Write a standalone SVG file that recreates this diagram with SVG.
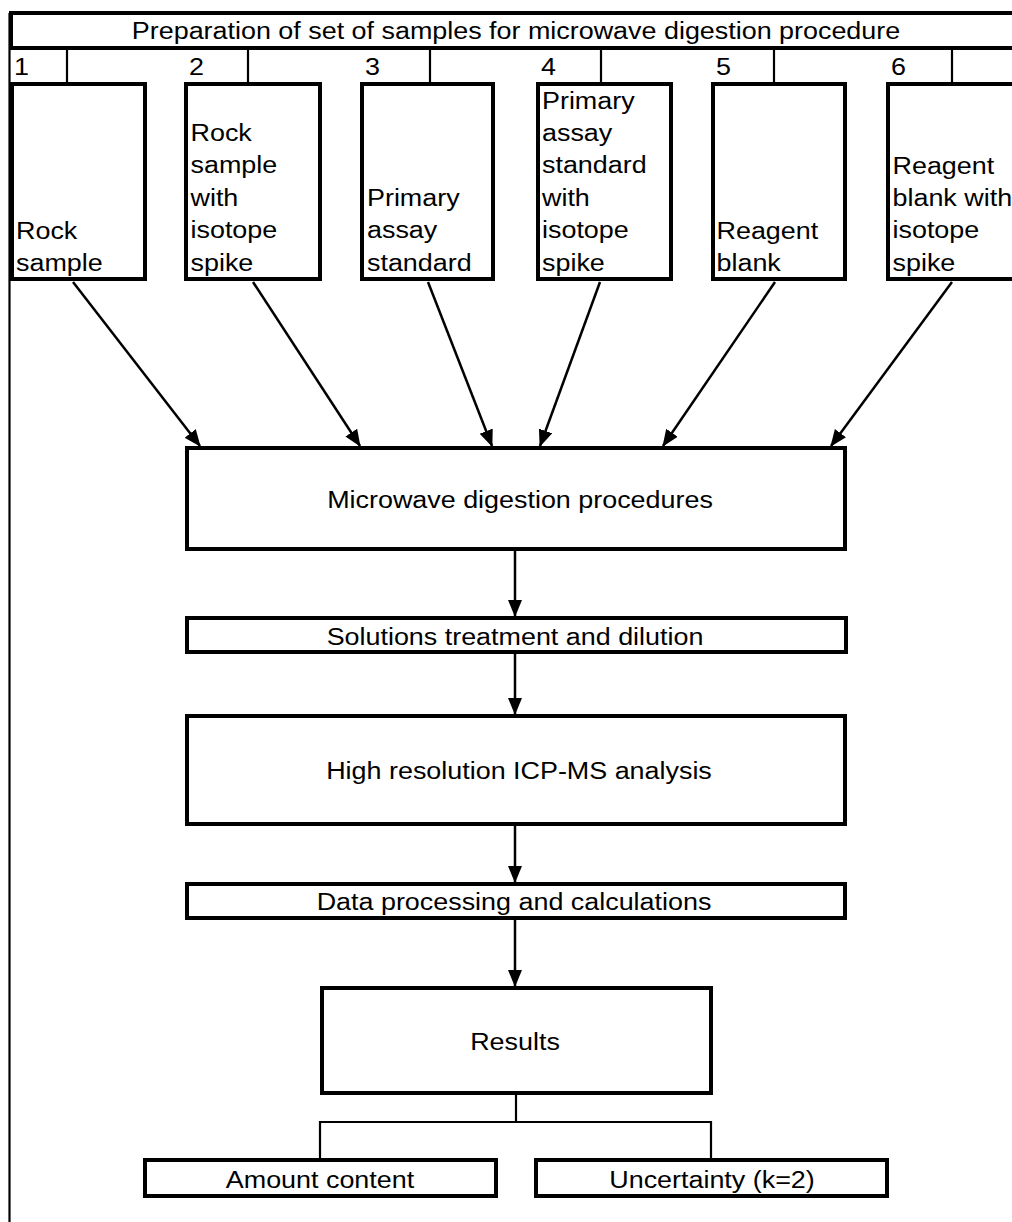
<svg xmlns="http://www.w3.org/2000/svg" width="1012" height="1222" viewBox="0 0 1012 1222">
<defs>
<style>
.box{fill:#fff;stroke:#000;stroke-width:4}
.thin{fill:none;stroke:#000;stroke-width:2.2}
.arr{fill:none;stroke:#000;stroke-width:2.5}
text{font-family:"Liberation Sans",Arial,Helvetica,sans-serif;font-size:23px;fill:#000}
.c{text-anchor:middle}
</style>
<marker id="ah" markerUnits="userSpaceOnUse" markerWidth="18" markerHeight="16" refX="16" refY="7" orient="auto">
<path d="M0,0 L17,7 L0,14 z" fill="#000"/>
</marker>
</defs>
<rect width="1012" height="1222" fill="#fff"/>
<line class="thin" x1="9.5" y1="13" x2="9.5" y2="1222"/>
<g id="header">
<rect class="box" x="11" y="13" width="1010" height="35"/>
<text class="c" transform="translate(516,39) scale(1.17,1)">Preparation of set of samples for microwave digestion procedure</text>
</g>
<g id="dividers">
<line class="thin" x1="67" y1="48" x2="67" y2="84"/>
<line class="thin" x1="248" y1="48" x2="248" y2="84"/>
<line class="thin" x1="430" y1="48" x2="430" y2="84"/>
<line class="thin" x1="601" y1="48" x2="601" y2="84"/>
<line class="thin" x1="774" y1="48" x2="774" y2="84"/>
<line class="thin" x1="952" y1="48" x2="952" y2="84"/>
<text transform="translate(14,75) scale(1.17,1)">1</text>
<text transform="translate(189,75) scale(1.17,1)">2</text>
<text transform="translate(365,75) scale(1.17,1)">3</text>
<text transform="translate(541,75) scale(1.17,1)">4</text>
<text transform="translate(716,75) scale(1.17,1)">5</text>
<text transform="translate(891,75) scale(1.17,1)">6</text>
</g>
<g id="s1">
<rect class="box" x="12" y="84" width="133" height="195"/>
<text transform="translate(16,239) scale(1.17,1)"><tspan x="0" y="0">Rock</tspan><tspan x="0" y="32.5">sample</tspan></text>
</g>
<g id="s2">
<rect class="box" x="186" y="84" width="134" height="195"/>
<text transform="translate(190.5,141) scale(1.17,1)"><tspan x="0" y="0">Rock</tspan><tspan x="0" y="32.5">sample</tspan><tspan x="0" y="65">with</tspan><tspan x="0" y="97.5">isotope</tspan><tspan x="0" y="130">spike</tspan></text>
</g>
<g id="s3">
<rect class="box" x="362" y="84" width="131" height="195"/>
<text transform="translate(367,206) scale(1.17,1)"><tspan x="0" y="0">Primary</tspan><tspan x="0" y="32.5">assay</tspan><tspan x="0" y="65">standard</tspan></text>
</g>
<g id="s4">
<rect class="box" x="538" y="84" width="133" height="195"/>
<text transform="translate(542,108.5) scale(1.17,1)"><tspan x="0" y="0">Primary</tspan><tspan x="0" y="32.5">assay</tspan><tspan x="0" y="65">standard</tspan><tspan x="0" y="97.5">with</tspan><tspan x="0" y="130">isotope</tspan><tspan x="0" y="162.5">spike</tspan></text>
</g>
<g id="s5">
<rect class="box" x="713" y="84" width="132" height="195"/>
<text transform="translate(716.5,239) scale(1.17,1)"><tspan x="0" y="0">Reagent</tspan><tspan x="0" y="32.5">blank</tspan></text>
</g>
<g id="s6">
<rect class="box" x="888" y="84" width="140" height="195"/>
<text transform="translate(892.5,173.5) scale(1.17,1)"><tspan x="0" y="0">Reagent</tspan><tspan x="0" y="32.5">blank with</tspan><tspan x="0" y="65">isotope</tspan><tspan x="0" y="97.5">spike</tspan></text>
</g>
<g id="microwave">
<rect class="box" x="187" y="448" width="658" height="101"/>
<text class="c" transform="translate(520,508) scale(1.17,1)">Microwave digestion procedures</text>
</g>
<g id="solutions">
<rect class="box" x="187" y="618" width="659" height="34"/>
<text class="c" transform="translate(515,645) scale(1.17,1)">Solutions treatment and dilution</text>
</g>
<g id="icpms">
<rect class="box" x="187" y="716" width="658" height="108"/>
<text class="c" transform="translate(519,779) scale(1.17,1)">High resolution ICP-MS analysis</text>
</g>
<g id="data">
<rect class="box" x="187" y="884" width="658" height="34"/>
<text class="c" transform="translate(514,910) scale(1.17,1)">Data processing and calculations</text>
</g>
<g id="results">
<rect class="box" x="322" y="988" width="389" height="105"/>
<text class="c" transform="translate(515,1050) scale(1.17,1)">Results</text>
</g>
<g id="amount">
<rect class="box" x="145" y="1160" width="351" height="36"/>
<text class="c" transform="translate(320,1188) scale(1.17,1)">Amount content</text>
</g>
<g id="uncertainty">
<rect class="box" x="536" y="1160" width="351" height="36"/>
<text class="c" transform="translate(712,1188) scale(1.17,1)">Uncertainty (k=2)</text>
</g>
<g id="connectors">
<line class="arr" marker-end="url(#ah)" x1="73" y1="282" x2="200" y2="446"/>
<line class="arr" marker-end="url(#ah)" x1="253" y1="282" x2="360" y2="446"/>
<line class="arr" marker-end="url(#ah)" x1="428" y1="282" x2="492" y2="446"/>
<line class="arr" marker-end="url(#ah)" x1="600" y1="282" x2="540" y2="446"/>
<line class="arr" marker-end="url(#ah)" x1="775" y1="282" x2="663" y2="446"/>
<line class="arr" marker-end="url(#ah)" x1="952" y1="282" x2="831" y2="446"/>
<line class="arr" marker-end="url(#ah)" x1="515" y1="551" x2="515" y2="616"/>
<line class="arr" marker-end="url(#ah)" x1="515" y1="654" x2="515" y2="714"/>
<line class="arr" marker-end="url(#ah)" x1="515" y1="826" x2="515" y2="882"/>
<line class="arr" marker-end="url(#ah)" x1="515" y1="920" x2="515" y2="986"/>
<polyline class="thin" points="516,1095 516,1122"/>
<polyline class="thin" points="320,1158 320,1122 711,1122 711,1158"/>
</g>
</svg>
